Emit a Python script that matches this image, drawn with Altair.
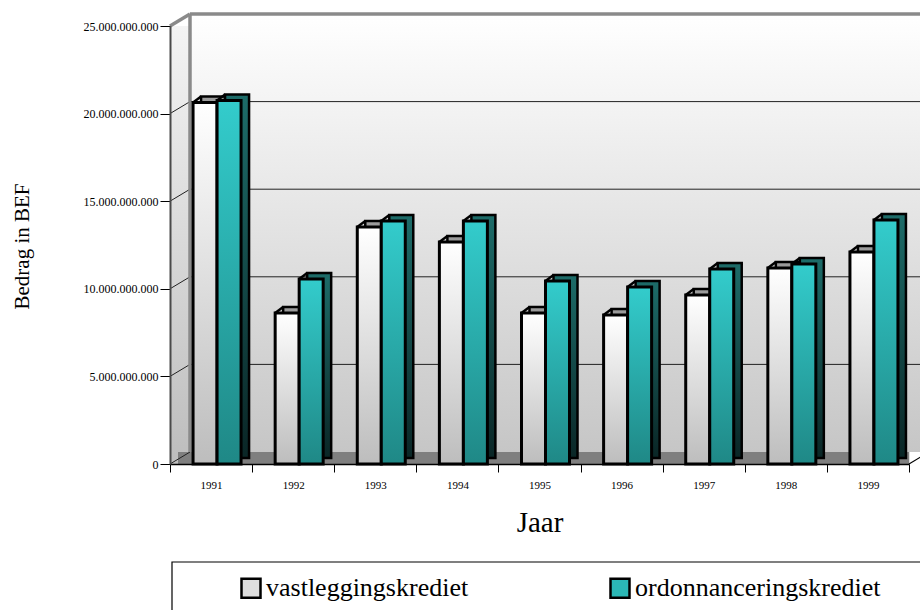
import altair as alt
import pandas as pd

# ---- data (values in BEF) ----
years = ["1991", "1992", "1993", "1994", "1995", "1996", "1997", "1998", "1999"]
vastlegging = [20.63e9, 8.62e9, 13.53e9, 12.67e9, 8.62e9, 8.50e9, 9.65e9, 11.19e9, 12.10e9]
ordonnancering = [20.75e9, 10.56e9, 13.87e9, 13.87e9, 10.45e9, 10.10e9, 11.13e9, 11.42e9, 13.93e9]
series_names = ["vastleggingskrediet", "ordonnanceringskrediet"]
y_ticks = [0, 5e9, 10e9, 15e9, 20e9, 25e9]
grid_vals = [5e9, 10e9, 15e9, 20e9]
diag_vals = [0, 5e9, 10e9, 15e9, 20e9]

W, H = 739, 438
DX, DY = 20, -12          # wall depth
BDX, BDY = 8, -6          # bar depth
BW = 24                   # bar front width
OFF_V, OFF_O = -6, 18     # bar offsets from band centre
FONT = "Liberation Serif"

bars = pd.DataFrame({"year": years, "vast": vastlegging, "ordo": ordonnancering})
legend_df = pd.DataFrame({"series": series_names})
wall_df = pd.DataFrame({"lo": [0.0], "hi": [25e9]})
grid_df = pd.DataFrame({"v": grid_vals})
diag_df = pd.DataFrame({"v": diag_vals})


def vgrad(c0, c1):
    return {"gradient": "linear", "x1": 0, "x2": 0, "y1": 0, "y2": 1,
            "stops": [{"offset": 0, "color": c0}, {"offset": 1, "color": c1}]}


yscale = alt.Scale(domain=[0, 25e9], nice=False, zero=True)
xscale = alt.Scale(domain=years, paddingInner=0, paddingOuter=0)

x_axis = alt.Axis(title="Jaar", titleFont=FONT, titleFontSize=29, titleFontWeight="normal",
                  titleColor="black", titleBaseline="middle", titleY=58, titleX=W / 2,
                  labelFont=FONT, labelFontSize=11, labelColor="black", labelAngle=0,
                  labelPadding=7, tickBand="extent", tickSize=8, tickColor="black",
                  domainColor="black", domainWidth=1.5, zindex=1, grid=False)
y_axis = alt.Axis(title="Bedrag in BEF", titleFont=FONT, titleFontSize=21,
                  titleFontWeight="normal", titleColor="black", titleAngle=-90,
                  titleAlign="center", titleBaseline="middle", titleX=-148, titleY=220,
                  values=y_ticks, labelFont=FONT, labelFontSize=12, labelColor="black",
                  labelPadding=2, tickSize=10, tickColor="black",
                  labelExpr="datum.value == 0 ? '0' : format(datum.value / 1e9, 'd') + '.000.000.000'",
                  domainColor="#4a4a4a", domainWidth=2, zindex=1, grid=False)

# ---- walls and floor ----
back_wall = alt.Chart(wall_df).mark_rect(
    fill=vgrad("#ffffff", "#c6c6c6"), yOffset=DY, y2Offset=DY
).encode(x=alt.value(DX), x2=alt.value(W + 60),
         y=alt.Y("hi:Q", scale=yscale, axis=y_axis), y2="lo:Q")

side_wall = alt.Chart(wall_df).mark_rect(
    fill=vgrad("#f4f4f4", "#bdbdbd")
).encode(x=alt.value(0), x2=alt.value(DX), y="hi:Q", y2="lo:Q")

floor = alt.Chart(wall_df).mark_rect(fill="#7f7f7f", y2Offset=DY).encode(
    x=alt.value(8), x2=alt.value(W), y="lo:Q", y2="lo:Q")

grid = alt.Chart(grid_df).mark_rule(color="#222222", strokeWidth=1, yOffset=DY).encode(
    x=alt.value(DX), x2=alt.value(W + 60), y="v:Q")

diags = alt.Chart(diag_df).mark_rule(color="#222222", strokeWidth=1, y2Offset=DY).encode(
    x=alt.value(0), x2=alt.value(DX), y="v:Q", y2="v:Q")

top_edge = alt.Chart(wall_df).mark_rule(color="#8a8a8a", strokeWidth=3.5, yOffset=DY).encode(
    x=alt.value(DX), x2=alt.value(W + 60), y="hi:Q")
back_edge = alt.Chart(wall_df).mark_rule(color="#8a8a8a", strokeWidth=3.5,
                                         yOffset=DY, y2Offset=DY).encode(
    x=alt.value(DX), y="hi:Q", y2="lo:Q")
corner_edge = alt.Chart(wall_df).mark_rule(color="#8a8a8a", strokeWidth=3.5, y2Offset=DY).encode(
    x=alt.value(0), x2=alt.value(DX), y="hi:Q", y2="hi:Q")
right_edge = alt.Chart(wall_df).mark_rule(color="black", strokeWidth=1.2, y2Offset=DY).encode(
    x=alt.value(W), x2=alt.value(W + DX), y="lo:Q", y2="lo:Q")

# ---- bars ----
xenc = alt.X("year:N", scale=xscale, axis=x_axis, sort=years)
base = alt.Chart(bars)

vast_depth = base.mark_bar(width=BW, xOffset=OFF_V + BDX, yOffset=BDY, y2Offset=BDY,
                           fill=vgrad("#9c9c9c", "#4a4a4a"), stroke="black",
                           strokeWidth=2.5).encode(x=xenc, y="vast:Q")
ordo_depth = base.mark_bar(width=BW, xOffset=OFF_O + BDX, yOffset=BDY, y2Offset=BDY,
                           fill=vgrad("#1d6c69", "#0a2626"), stroke="black",
                           strokeWidth=2.5).encode(x=xenc, y="ordo:Q")
vast_front = base.mark_bar(width=BW, xOffset=OFF_V,
                           fill=vgrad("#ffffff", "#bdbdbd"), stroke="black",
                           strokeWidth=3).encode(x=xenc, y="vast:Q")
ordo_front = base.mark_bar(width=BW, xOffset=OFF_O,
                           fill=vgrad("#33cccc", "#1f8886"), stroke="black",
                           strokeWidth=3).encode(x=xenc, y="ordo:Q")
vast_bevel = base.mark_rule(color="black", strokeWidth=2.5,
                            xOffset=OFF_V - BW / 2, x2Offset=OFF_V - BW / 2 + BDX,
                            y2Offset=BDY).encode(x=xenc, x2="year:N", y="vast:Q", y2="vast:Q")
ordo_bevel = base.mark_rule(color="black", strokeWidth=2.5,
                            xOffset=OFF_O - BW / 2, x2Offset=OFF_O - BW / 2 + BDX,
                            y2Offset=BDY).encode(x=xenc, x2="year:N", y="ordo:Q", y2="ordo:Q")

# ---- legend ----
legend_box = alt.Chart(wall_df).mark_rect(fill="white", stroke="black", strokeWidth=1.2).encode(
    x=alt.value(2), x2=alt.value(W + 60), y=alt.value(536), y2=alt.value(H + 200))

legend_layer = alt.Chart(legend_df).mark_point(filled=True, shape="square", opacity=0).encode(
    color=alt.Color("series:N",
                    scale=alt.Scale(domain=series_names, range=["#dedede", "#2bb8b6"]),
                    legend=alt.Legend(title=None, orient="none", legendX=68, legendY=549,
                                      direction="horizontal", symbolType="square",
                                      symbolSize=361, symbolStrokeColor="black",
                                      symbolStrokeWidth=2.5, symbolOpacity=1,
                                      labelFont=FONT, labelFontSize=26, labelColor="black",
                                      labelOffset=2, labelLimit=500, columnPadding=136,
                                      padding=0)))

chart = alt.layer(
    back_wall, side_wall, floor, grid, diags, top_edge, back_edge, corner_edge,
    vast_depth, ordo_depth, vast_front, ordo_front, vast_bevel, ordo_bevel,
    right_edge, legend_box, legend_layer
).properties(
    width=W, height=H,
    padding={"left": 170, "top": 26, "right": 11, "bottom": 146},
    autosize=alt.AutoSizeParams(type="none"),
).configure_view(stroke=None).configure_legend(
    labelFont=FONT, labelFontSize=26, labelColor="black"
).configure(background="white", font=FONT)

chart.save("out.html", embed_options={"renderer": "svg", "actions": False})
